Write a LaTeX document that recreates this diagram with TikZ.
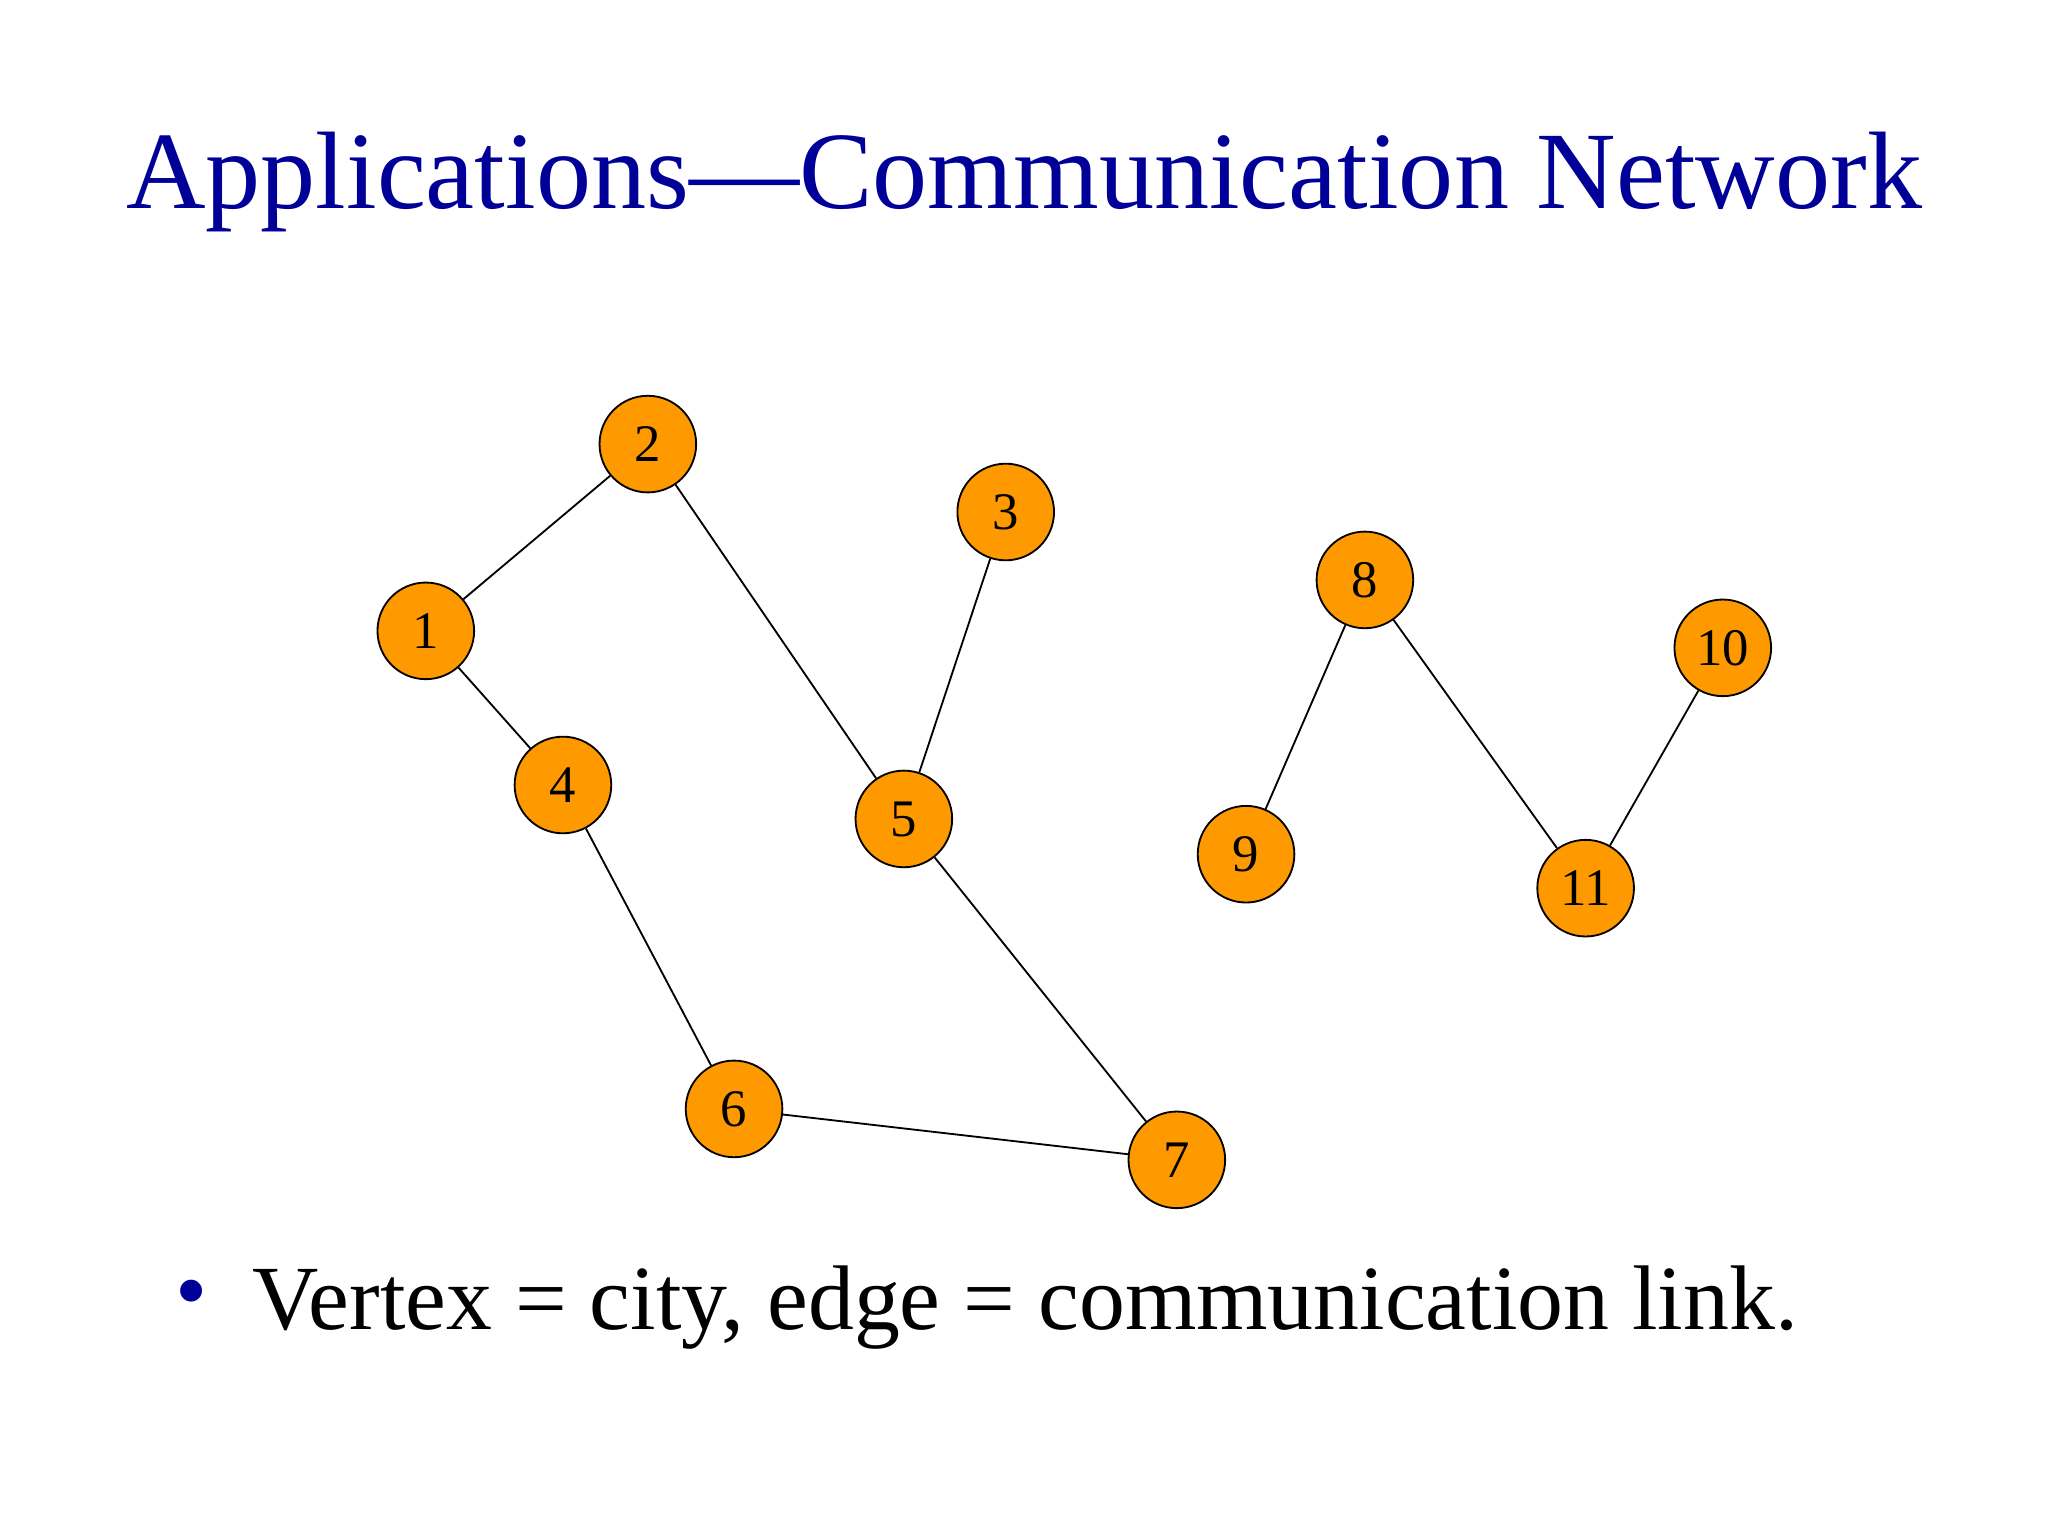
\documentclass[tikz,border=0pt]{standalone}
\usepackage{fontspec}
\setmainfont{Liberation Serif}
\definecolor{ttl}{RGB}{0,0,153}
\definecolor{orng}{RGB}{255,153,0}
\begin{document}
\begin{tikzpicture}[x=0.02cm,y=-0.02cm,
  v/.style={circle,draw=black,thick,fill=orng,minimum size=1.48cm,inner sep=0pt,font=\fontsize{23}{23}\selectfont,text depth=-17pt},
  e/.style={black,line width=0.8pt}]
\useasboundingbox (0,0) rectangle (1568,1176);
\node[ttl,font=\fontsize{48}{48}\selectfont,anchor=base] (title) at (784,160) {Applications—Communication Network};
\node[v] (n1) at (326,483) {1};
\node[v] (n2) at (496,340) {2};
\node[v] (n3) at (770,392) {3};
\node[v] (n4) at (431,601) {4};
\node[v] (n5) at (692,627) {5};
\node[v] (n6) at (562,849) {6};
\node[v] (n7) at (901,888) {7};
\node[v] (n8) at (1045,444) {8};
\node[v] (n9) at (954,654) {9};
\node[v] (n10) at (1319,496) {10};
\node[v] (n11) at (1214,680) {11};
\draw[e] (n1)--(n2); \draw[e] (n1)--(n4); \draw[e] (n2)--(n5);
\draw[e] (n3)--(n5); \draw[e] (n4)--(n6); \draw[e] (n5)--(n7);
\draw[e] (n6)--(n7); \draw[e] (n8)--(n9); \draw[e] (n8)--(n11);
\draw[e] (n10)--(n11);
\node[ttl,font=\fontsize{40}{40}\selectfont,anchor=base] (bul) at (147,1012) {•};
\node[font=\fontsize{40}{40}\selectfont,anchor=base west,inner sep=0pt] (txt) at (193,1018) {Vertex = city, edge = communication link.};
\end{tikzpicture}
\end{document}
